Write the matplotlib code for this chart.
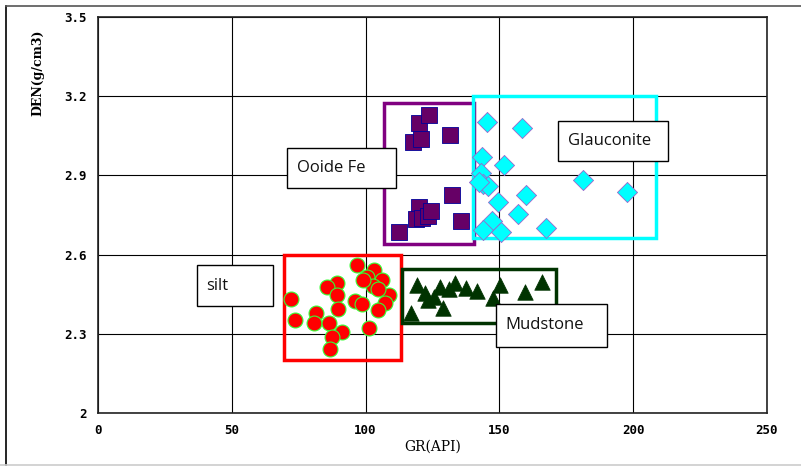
import matplotlib.pyplot as plt
from matplotlib.patches import Rectangle
from matplotlib.lines import Line2D

# Ooide Fe (purple squares)
fe_gr = [120.0, 123.7, 117.6, 120.6, 131.5, 119.8, 118.8, 121.0, 123.4, 124.3, 132.3, 135.5, 112.3]
fe_den = [3.100, 3.128, 3.025, 3.037, 3.054, 2.781, 2.734, 2.737, 2.747, 2.766, 2.827, 2.728, 2.686]

# Glauconite (cyan diamonds)
gl_gr = [145.5, 158.6, 143.4, 151.8, 143.0, 143.7, 145.9, 181.1, 197.5, 149.3, 159.8, 156.8,
         147.3, 144.0, 150.6, 167.3, 142.5]
gl_den = [3.101, 3.081, 2.969, 2.939, 2.908, 2.867, 2.861, 2.883, 2.836, 2.800, 2.827, 2.753,
          2.728, 2.693, 2.687, 2.700, 2.875]

# silt (red circles)
si_gr = [96.7, 103.3, 100.4, 106.0, 102.9, 89.2, 85.7, 89.2, 108.6, 107.2, 104.7, 72.0, 96.0,
         98.5, 89.8, 81.3, 73.8, 80.8, 86.3, 91.3, 87.6, 101.3, 86.7, 104.5, 99.0]
si_den = [2.562, 2.542, 2.516, 2.504, 2.481, 2.494, 2.476, 2.447, 2.447, 2.415, 2.390, 2.432,
          2.425, 2.413, 2.393, 2.380, 2.352, 2.342, 2.340, 2.308, 2.287, 2.323, 2.242, 2.470, 2.505]

# Mudstone (dark green triangles)
mu_gr = [119.1, 122.2, 123.4, 117.0, 127.8, 129.0, 133.4, 137.5, 141.5, 150.2, 147.5, 159.6,
         166.0, 125.5, 131.0]
mu_den = [2.485, 2.453, 2.428, 2.378, 2.478, 2.397, 2.491, 2.472, 2.463, 2.485, 2.434, 2.460,
          2.495, 2.440, 2.470]

# group boxes: (x0, y0, x1, y1, colour)
boxes = [(107.0, 2.64, 140.5, 3.175, '#800080'),
         (140.3, 2.663, 208.5, 3.20, '#00FFFF'),
         (69.5, 2.20, 113.1, 2.60, '#FF0000'),
         (113.7, 2.34, 171.0, 2.545, '#003300')]

# labels: (text, x0, y0, x1, y1)
labels = [('Ooide Fe', 70.7, 2.853, 111.3, 3.003),
          ('Glauconite', 172.0, 2.955, 213.0, 3.107),
          ('silt', 37.0, 2.405, 65.4, 2.56),
          ('Mudstone', 148.7, 2.25, 190.2, 2.413)]

fig = plt.figure(figsize=(8.01, 4.67), dpi=100)
ax = fig.add_axes([98/801, 1-413/467, (767-98)/801, (413-17)/467])

ax.set_xlim(0, 250)
ax.set_ylim(2, 3.5)
ax.set_xticks([0, 50, 100, 150, 200, 250])
ax.set_yticks([2, 2.3, 2.6, 2.9, 3.2, 3.5])
ax.set_yticklabels(['2', '2.3', '2.6', '2.9', '3.2', '3.5'])
ax.grid(True, color='black', linewidth=0.8)
ax.set_axisbelow(True)
ax.tick_params(length=0, labelsize=9, pad=8)
for t in ax.get_xticklabels() + ax.get_yticklabels():
    t.set_fontweight('bold')
    t.set_family('DejaVu Sans Mono')
for s in ax.spines.values():
    s.set_color('#222222')
    s.set_linewidth(1.2)
ax.set_xlabel('GR(API)', fontsize=10, family='DejaVu Serif', labelpad=2)
ax.set_ylabel('DEN(g/cm3)', fontsize=9, family='DejaVu Serif', fontweight='bold', labelpad=4)
ax.yaxis.set_label_coords(-0.08, 0.86)

for x0, y0, x1, y1, c in boxes:
    ax.add_patch(Rectangle((x0, y0), x1 - x0, y1 - y0, fill=False, edgecolor=c, linewidth=2.5, zorder=3))

ax.scatter(si_gr, si_den, marker='o', s=115, c='#FF0000', edgecolors='#33FF33', linewidths=0.8, zorder=4)
ax.scatter(mu_gr, mu_den, marker='^', s=125, c='#003300', edgecolors='#003300', linewidths=0.5, zorder=4)
ax.scatter(gl_gr, gl_den, marker='D', s=105, c='#00FFFF', edgecolors='#9966CC', linewidths=0.6, zorder=4)
ax.scatter(fe_gr, fe_den, marker='s', s=120, c='#660066', edgecolors='#000099', linewidths=0.6, zorder=5)

for txt, x0, y0, x1, y1 in labels:
    ax.add_patch(Rectangle((x0, y0), x1 - x0, y1 - y0, facecolor='white', edgecolor='black', linewidth=1.0, zorder=6))
    ax.text(x0 + 3.5, (y0 + y1) / 2, txt, fontsize=12, family='Open Sans', va='center', ha='left', zorder=7, color='#111111')

# outer frame
fig.add_artist(Line2D([6/801, 6/801], [2/467, 1-6/467], color='black', linewidth=1.2))
fig.add_artist(Line2D([6/801, 1], [1-6/467, 1-6/467], color='#555555', linewidth=1.2))
fig.add_artist(Line2D([0, 1], [2/467, 2/467], color='#cccccc', linewidth=1.2))

plt.savefig('out.png', dpi=100)
plt.close()
